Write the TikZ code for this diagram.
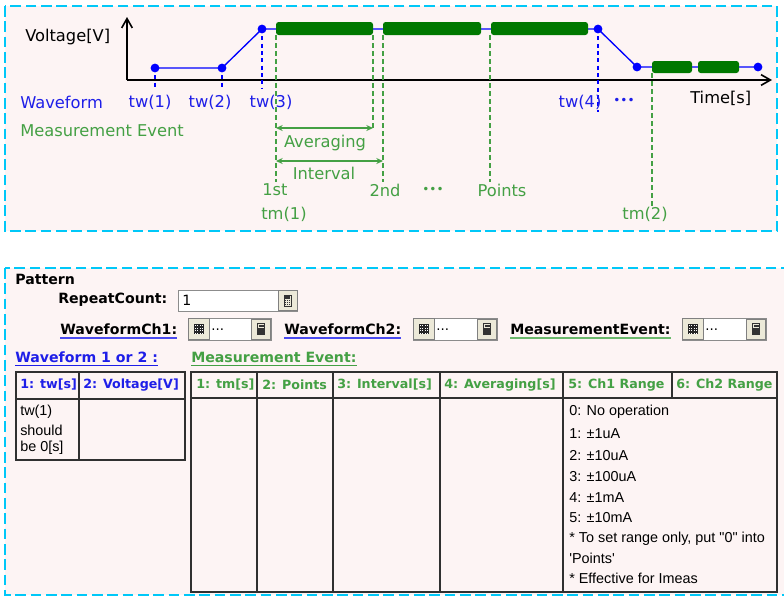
\documentclass[tikz,border=0pt]{standalone}
\usepackage{fontspec}
\setmainfont{DejaVu Sans}
\newfontfamily\arialf{Liberation Sans}
\usetikzlibrary{arrows.meta}
\definecolor{panelfill}{HTML}{FDF4F4}
\definecolor{dashcyan}{HTML}{00C8F8}
\definecolor{wblue}{HTML}{0000FF}
\definecolor{lblue}{HTML}{1E1EE8}
\definecolor{ublue}{HTML}{4A4AF0}
\definecolor{ugreen}{HTML}{6CB86C}
\definecolor{bargreen}{HTML}{007800}
\definecolor{mgreen}{HTML}{44A044}
\definecolor{btnfill}{HTML}{ECE9D8}
\definecolor{tborder}{HTML}{303030}
\begin{document}
\begin{tikzpicture}[x=0.75pt,y=-0.75pt,
  panel/.style={draw=dashcyan,fill=panelfill,line width=2.2pt,dash pattern=on 8pt off 3.5pt},
  tlabel/.style={inner sep=0pt,font=\fontsize{12.2}{14}\selectfont},
  blab/.style={tlabel,text=lblue},
  glab/.style={tlabel,text=mgreen},
  axisline/.style={black,line width=1.2pt,-{Straight Barb[length=7pt,width=8pt,line width=1.2pt]}},
  wave/.style={wblue,line width=1pt},
  bdash/.style={wblue,line width=0.9pt,dash pattern=on 3pt off 2.5pt},
  gdash/.style={mgreen,line width=0.9pt,dash pattern=on 3.5pt off 2.5pt},
  gbar/.style={fill=bargreen,rounded corners=2pt},
  garrow/.style={mgreen,line width=1pt,{Stealth[length=5pt,width=4.5pt]}-{Stealth[length=5pt,width=4.5pt]}},
  dotb/.style={fill=wblue},
  flab/.style={inner sep=0pt,anchor=west,font=\fontsize{10.6}{12}\selectfont\bfseries},
  hlab/.style={inner sep=0pt,anchor=west,font=\fontsize{9.5}{12}\selectfont\bfseries},
  body/.style={inner sep=0pt,anchor=west,font=\arialf\fontsize{10.8}{13}\selectfont},
  tline/.style={draw=tborder,line width=1.1pt},
  field/.style={fill=white,draw=black!45,line width=0.7pt},
  btn/.style={fill=btnfill,draw=black!50,line width=0.7pt},
  calcbtn/.pic={
    \path[btn] (-9.5,-10) rectangle (9.5,10);
    \draw[black!80,line width=0.6pt] (-3.5,-5.5) rectangle (3.5,5.5);
    \fill[black!80] (-2.5,-4.5) rectangle (2.5,-2);
    \foreach \i in {-2,0,2}{\foreach \j in {0,2,4}{\fill[black!80] (\i-0.7,\j-0.7) rectangle (\i+0.7,\j+0.7);}}
  },
  gridbtn/.pic={
    \path[btn] (-10.5,-10.5) rectangle (10.5,10.5);
    \fill[black!85] (-5,-5) rectangle (5,5);
    \foreach \i in {-4,-1.5,1,3.5}{\foreach \j in {-4,-1.5,1,3.5}{\fill[white] (\i,\j) rectangle (\i+0.9,\j+0.9);}}
  }]
\clip (0,0) rectangle (784,597);
\fill[white] (0,0) rectangle (784,597);

% ---------------- top panel ----------------
\path[panel] (5,6) rectangle (777,231);

\coordinate (org) at (127,80);
\coordinate (xend) at (772,80);
\coordinate (yend) at (127,17);
\draw[axisline] (org) -- (xend);
\draw[axisline] (org) -- (yend);
\node[tlabel,anchor=west] (vlab) at (25,37) {Voltage[V]};
\node[tlabel,anchor=west] (tlab) at (690,98) {Time[s]};

% waveform
\coordinate (w1) at (155,68);
\coordinate (w2) at (222,68);
\coordinate (w3) at (262,29);
\coordinate (w4) at (598,29);
\coordinate (w5) at (637,67);
\coordinate (w6) at (758,67);
\draw[wave] (w1) -- (w2) -- (w3) -- (w4) -- (w5) -- (w6);

% blue dashed markers
\coordinate (d1) at (155,88);
\coordinate (d2) at (222,88);
\coordinate (d3) at (262,88);
\coordinate (d4) at (598,112);
\draw[bdash] (w1) -- (d1);
\draw[bdash] (w2) -- (d2);
\draw[bdash] (w3) -- (d3);
\draw[bdash] (w4) -- (d4);

% green measurement bars
\path[gbar] (276,22) rectangle (373,35);
\path[gbar] (383,22) rectangle (481,35);
\path[gbar] (491,22) rectangle (588,35);
\path[gbar] (652,61) rectangle (692,73);
\path[gbar] (698,61) rectangle (739,73);

% dots
\foreach \p in {w1,w2,w3,w4,w5,w6}{\fill[dotb] (\p) circle (4.4);}

% green dashed lines
\coordinate (m1t) at (276,35);  \coordinate (m1b) at (276,182);
\coordinate (a1t) at (373,35);  \coordinate (a1b) at (373,130);
\coordinate (m2t) at (383,35);  \coordinate (m2b) at (383,182);
\coordinate (m3t) at (490,35);  \coordinate (m3b) at (490,182);
\coordinate (m4t) at (652,73);  \coordinate (m4b) at (652,207);
\draw[gdash] (m1t) -- (m1b);
\draw[gdash] (a1t) -- (a1b);
\draw[gdash] (m2t) -- (m2b);
\draw[gdash] (m3t) -- (m3b);
\draw[gdash] (m4t) -- (m4b);

% arrows
\coordinate (avl) at (276,128); \coordinate (avr) at (373,128);
\coordinate (inl) at (276,161); \coordinate (inr) at (383,161);
\draw[garrow] (avl) -- (avr);
\draw[garrow] (inl) -- (inr);
\node[glab] (avg) at (325,143) {Averaging};
\node[glab] (intv) at (324,173) {Interval};

% labels
\node[blab,anchor=west] (wf) at (20,102) {Waveform};
\node[glab,anchor=west] (me) at (20,131) {Measurement Event};
\node[blab] (tw1) at (150,102) {tw(1)};
\node[blab] (tw2) at (210,102) {tw(2)};
\node[blab] (tw3) at (271,102) {tw(3)};
\node[blab] (tw4) at (580,102) {tw(4)};
\node[inner sep=0pt,text=lblue,font=\fontsize{9}{10}\selectfont] (dots1) at (624,101) {•••};
\node[glab] (first) at (275,190) {1st};
\node[glab] (tm1) at (284,214) {tm(1)};
\node[glab] (second) at (385,190) {2nd};
\node[inner sep=0pt,text=mgreen,font=\fontsize{9}{10}\selectfont] (dots2) at (433,190) {•••};
\node[glab] (pts) at (502,190) {Points};
\node[glab] (tm2) at (645,214) {tm(2)};

% ---------------- bottom panel ----------------
\path[panel] (5,268) rectangle (792,595);

\node[flab] (pat) at (15,279) {Pattern};
\node[flab] (rc) at (58,300) {RepeatCount:};
\path[field] (178,290) rectangle (297,311);
\node[body,font=\fontsize{10.6}{12}\selectfont] (rcv) at (182,300) {1};
\pic at (287.5,300.5) {calcbtn};

\node[flab] (wc1) at (60,329) {WaveformCh1:};
\draw[ublue,line width=1.3pt] ([yshift=-3pt]wc1.base west) -- ([yshift=-3pt]wc1.base east);
\path[field] (188,318) rectangle (271,340);
\pic at (198.5,329) {gridbtn};
\pic at (261,329) {calcbtn};
\node[body,font=\fontsize{10}{12}\selectfont] (wc1v) at (211,330) {...};

\node[flab] (wc2) at (284,329) {WaveformCh2:};
\draw[ublue,line width=1.3pt] ([yshift=-3pt]wc2.base west) -- ([yshift=-3pt]wc2.base east);
\path[field] (413,318) rectangle (497,340);
\pic at (423.5,329) {gridbtn};
\pic at (487,329) {calcbtn};
\node[body,font=\fontsize{10}{12}\selectfont] (wc2v) at (436,330) {...};

\node[flab] (mev) at (510,329) {MeasurementEvent:};
\draw[ugreen,line width=1.3pt] ([yshift=-3pt]mev.base west) -- ([yshift=-3pt]mev.base east);
\path[field] (682,318) rectangle (766,340);
\pic at (692.5,329) {gridbtn};
\pic at (756,329) {calcbtn};
\node[body,font=\fontsize{10}{12}\selectfont] (mevv) at (705,330) {...};

\node[flab,text=lblue] (wf12) at (15,357) {Waveform 1 or 2 :};
\draw[lblue,line width=1.1pt] ([yshift=-2.5pt]wf12.base west) -- ([yshift=-2.5pt]wf12.base east);
\node[flab,text=mgreen] (mev2) at (191,357) {Measurement Event:};
\draw[mgreen,line width=1.1pt] ([yshift=-2.5pt]mev2.base west) -- ([yshift=-2.5pt]mev2.base east);

% table 1
\draw[tline] (16,372) rectangle (185,460);
\draw[tline] (16,399) -- (185,399);
\draw[tline] (79,372) -- (79,460);
\node[hlab,text=lblue] (h11) at (20,385) {1: tw[s]};
\node[hlab,text=lblue] (h12) at (83,385) {2: Voltage[V]};
\node[body] (t1a) at (20,412) {tw(1)};
\node[body] (t1b) at (20,430) {should};
\node[body] (t1c) at (20,448) {be 0[s]};

% table 2
\draw[tline] (191,372) rectangle (777,592);
\draw[tline] (191,398) -- (777,398);
\foreach \x in {257,333,440,563}{\draw[tline] (\x,372) -- (\x,592);}
\draw[tline] (672,372) -- (672,398);
\node[hlab,text=mgreen] (h21) at (196,385) {1: tm[s]};
\node[hlab,text=mgreen] (h22) at (262,385) {2: Points};
\node[hlab,text=mgreen] (h23) at (337,385) {3: Interval[s]};
\node[hlab,text=mgreen] (h24) at (444,385) {4: Averaging[s]};
\node[hlab,text=mgreen] (h25) at (568,385) {5: Ch1 Range};
\node[hlab,text=mgreen] (h26) at (676,385) {6: Ch2 Range};

\node[body] (r0) at (569,412) {0: No operation};
\node[body] (r1) at (569,434) {1: ±1uA};
\node[body] (r2) at (569,456) {2: ±10uA};
\node[body] (r3) at (569,477) {3: ±100uA};
\node[body] (r4) at (569,498) {4: ±1mA};
\node[body] (r5) at (569,518) {5: ±10mA};
\node[body] (r6) at (569,539) {* To set range only, put "0" into};
\node[body] (r7) at (569,558) {'Points'};
\node[body] (r8) at (569,578) {* Effective for Imeas};
\end{tikzpicture}
\end{document}
